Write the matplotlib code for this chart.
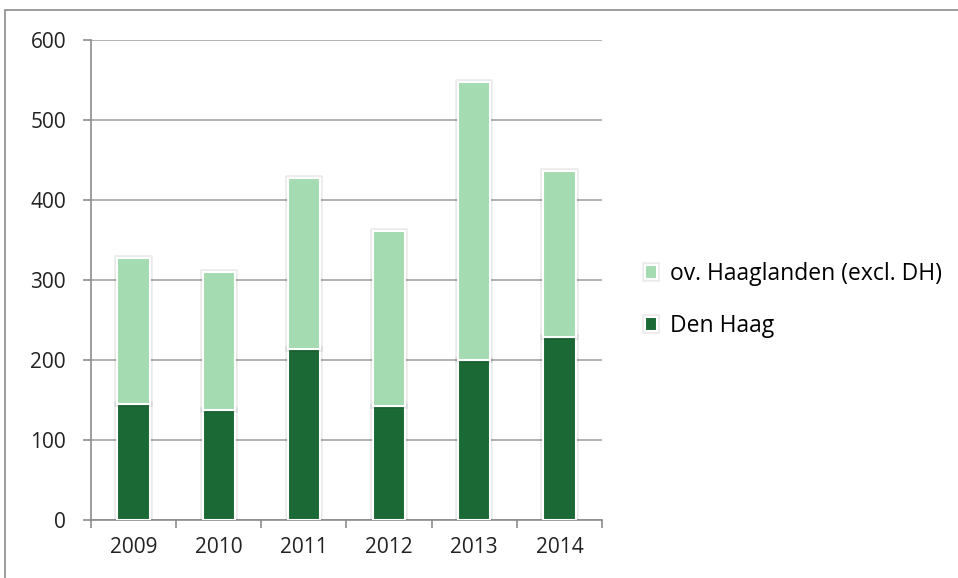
import matplotlib.pyplot as plt
import matplotlib.patheffects as pe
from matplotlib.patches import Rectangle
import numpy as np

years = ["2009", "2010", "2011", "2012", "2013", "2014"]
den_haag = [145, 137, 214, 143, 200, 229]
ov_haaglanden = [183, 173, 213, 218, 348, 207]

DARK = "#1b6934"
LIGHT = "#a4dbb1"
GRID = "#a6a6a6"

plt.rcParams['font.family'] = ['Open Sans', 'DejaVu Sans']


def main():
    fig = plt.figure(figsize=(9.58, 5.78), dpi=100)
    ax = fig.add_axes([91 / 958, 58 / 578, 511 / 958, 480 / 578])

    # chart area border, cropped at the right and bottom
    fig.patches.append(Rectangle((5 / 958, -0.1), 1.2, 1.1 - 10 / 578,
                                 transform=fig.transFigure, fill=False,
                                 edgecolor="#8c8c8c", linewidth=1.2))

    x = np.arange(len(years))
    shadow = [pe.Stroke(linewidth=4, foreground="#000000", alpha=0.08), pe.Normal()]
    b1 = ax.bar(x, den_haag, width=0.38, color=DARK, edgecolor="white",
                linewidth=1.5, label="Den Haag", zorder=3)
    b2 = ax.bar(x, ov_haaglanden, bottom=den_haag, width=0.38, color=LIGHT,
                edgecolor="white", linewidth=1.5,
                label="ov. Haaglanden (excl. DH)", zorder=3)
    for p in list(b1) + list(b2):
        p.set_path_effects(shadow)

    ax.set_xlim(-0.5, len(years) - 0.5)
    ax.set_ylim(0, 600)
    ax.set_yticks(range(0, 601, 100))
    ax.set_xticks(x)
    ax.set_xticklabels(years)
    ax.set_xticks(np.arange(-0.5, len(years), 1), minor=True)
    ax.yaxis.grid(True, color=GRID, linewidth=1.2, zorder=0)
    ax.set_axisbelow(True)

    for s in ["top", "right"]:
        ax.spines[s].set_visible(False)
    for s in ["left", "bottom"]:
        ax.spines[s].set_color("#8c8c8c")
        ax.spines[s].set_linewidth(1.2)

    ax.tick_params(axis="x", which="major", length=0, pad=12, labelsize=15,
                   colors="#222222")
    ax.tick_params(axis="x", which="minor", length=6, color="#8c8c8c", width=1.2)
    ax.tick_params(axis="y", length=6, color="#8c8c8c", width=1.2, pad=12,
                   labelsize=15, labelcolor="#222222")

    handles, labels = ax.get_legend_handles_labels()
    ax.legend(handles[::-1], labels[::-1], loc="center left",
              bbox_to_anchor=(624 / 958, 1 - 300 / 578), bbox_transform=fig.transFigure,
              frameon=False, fontsize=16.5, handlelength=0.55, handleheight=0.55,
              handletextpad=0.55, labelspacing=1.2)

    fig.savefig("out.png", dpi=100)
    plt.close()


if __name__ == "__main__":
    main()
